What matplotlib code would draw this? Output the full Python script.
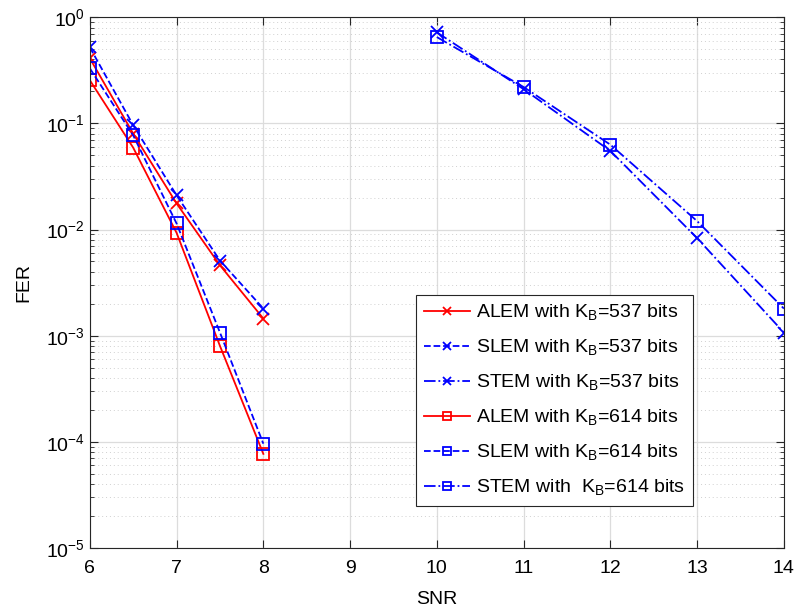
import matplotlib
matplotlib.use("Agg")
import matplotlib.pyplot as plt

plt.rcParams['font.family'] = ['Liberation Sans', 'DejaVu Sans']
plt.rcParams['mathtext.fontset'] = 'custom'
plt.rcParams['mathtext.rm'] = 'Liberation Sans'

# SNR values
snr_low = [6, 6.5, 7, 7.5, 8]
snr_high = [10, 11, 12, 13, 14]

# FER values
alem_537 = [0.41, 0.080, 0.0176, 0.0046, 0.00145]
slem_537 = [0.52, 0.096, 0.021, 0.0051, 0.0018]
stem_537 = [0.72, 0.21, 0.055, 0.0083, 0.00107]
alem_614 = [0.255, 0.059, 0.0093, 0.0008, 7.7e-5]
slem_614 = [0.33, 0.077, 0.0114, 0.00107, 9.6e-5]
stem_614 = [0.65, 0.22, 0.063, 0.012, 0.0018]

fig = plt.figure(figsize=(7.95, 6.15), dpi=100)
ax = fig.add_axes([0.113, 0.109, 0.873, 0.863])

lw = 1.3
ms = 8
ax.semilogy(snr_low, alem_537, '-x', color='red', lw=lw, ms=ms, mew=1.3,
            label=r'ALEM with K$_\mathrm{B}$=537 bits')
ax.semilogy(snr_low, slem_537, '--x', color='blue', lw=lw, ms=ms, mew=1.3,
            label=r'SLEM with K$_\mathrm{B}$=537 bits')
ax.semilogy(snr_high, stem_537, '-.x', color='blue', lw=lw, ms=ms, mew=1.3,
            label=r'STEM with K$_\mathrm{B}$=537 bits')
ax.semilogy(snr_low, alem_614, '-s', color='red', lw=lw, ms=ms, mew=1.3,
            mfc='none', label=r'ALEM with K$_\mathrm{B}$=614 bits')
ax.semilogy(snr_low, slem_614, '--s', color='blue', lw=lw, ms=ms, mew=1.3,
            mfc='none', label=r'SLEM with K$_\mathrm{B}$=614 bits')
ax.semilogy(snr_high, stem_614, '-.s', color='blue', lw=lw, ms=ms, mew=1.3,
            mfc='none', label=r'STEM with  K$_\mathrm{B}$=614 bits')

ax.set_xlim(6, 14)
ax.set_ylim(1e-5, 1)
ax.set_xticks(range(6, 15))
ax.set_xlabel('SNR', fontsize=14, labelpad=10)
ax.set_ylabel('FER', fontsize=14, labelpad=10)
ax.tick_params(axis='both', which='both', direction='in', top=True, right=True,
               labelsize=14, color='#262626')
ax.tick_params(axis='x', which='major', pad=9)
ax.tick_params(which='major', length=6)
ax.tick_params(which='minor', length=3)

ax.grid(True, which='major', color='#dcdcdc', lw=0.9)
ax.grid(True, which='minor', color='#d0d0d0', lw=0.7, ls=(0, (1, 3)))
ax.set_axisbelow(True)
for s in ax.spines.values():
    s.set_color('#262626')

leg = ax.legend(loc='upper left', bbox_to_anchor=(0.470, 0.476), fontsize=14,
                fancybox=False, edgecolor='#262626', framealpha=1,
                handlelength=2.4, handletextpad=0.3, labelspacing=0.75,
                borderpad=0.4, borderaxespad=0, markerscale=0.7)
leg.get_frame().set_linewidth(0.8)

fig.savefig('out.png', dpi=100)
